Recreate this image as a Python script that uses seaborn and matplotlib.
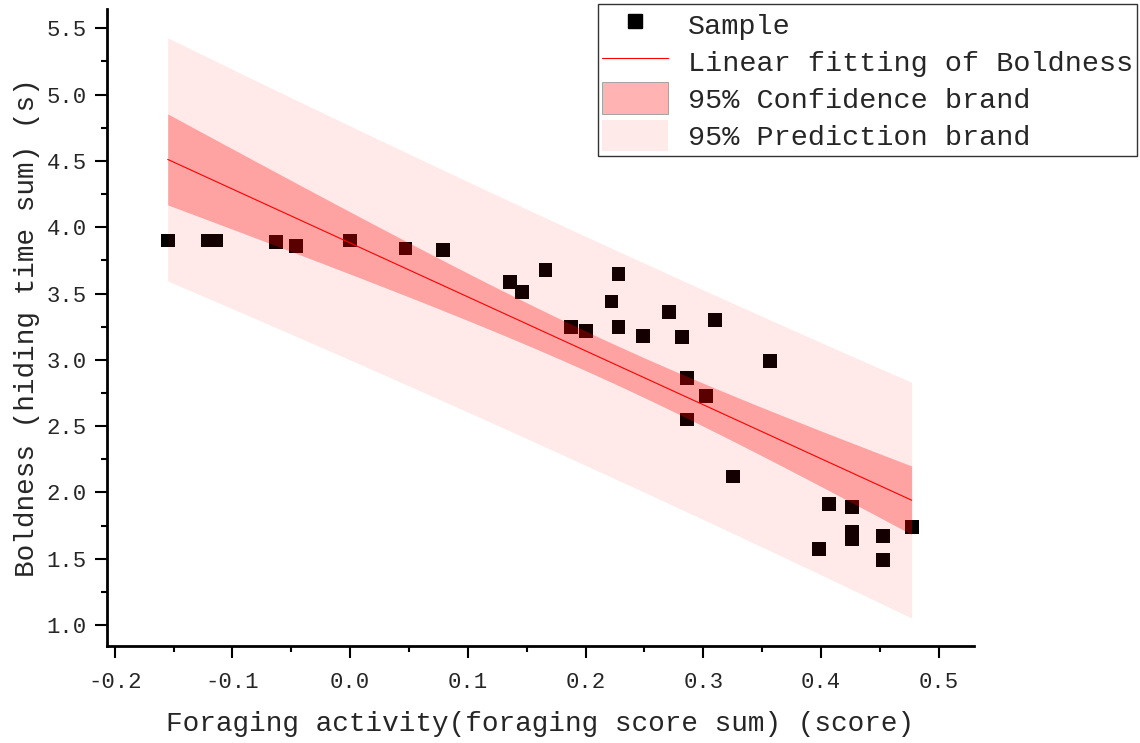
import numpy as np
import pandas as pd
import matplotlib
matplotlib.use("Agg")
import matplotlib.pyplot as plt
import seaborn as sns
from matplotlib.lines import Line2D
from matplotlib.patches import Patch
from matplotlib.ticker import MultipleLocator, FormatStrFormatter

# foraging score sum (x) vs hiding time sum (y)
foraging = [-0.155, -0.121, -0.114, -0.063, -0.046, 0.000, 0.047, 0.079,
            0.136, 0.146, 0.166, 0.188, 0.200, 0.228, 0.222, 0.228,
            0.249, 0.271, 0.282, 0.310, 0.357, 0.286, 0.302, 0.286,
            0.325, 0.407, 0.426, 0.426, 0.426, 0.453, 0.453, 0.398, 0.477]
boldness = [3.90, 3.90, 3.90, 3.89, 3.86, 3.90, 3.84, 3.83,
            3.59, 3.51, 3.68, 3.25, 3.22, 3.65, 3.44, 3.25,
            3.18, 3.36, 3.17, 3.30, 2.99, 2.86, 2.73, 2.55,
            2.12, 1.91, 1.89, 1.70, 1.65, 1.67, 1.49, 1.57, 1.74]

xlabel = "Foraging activity(foraging score sum) (score)"
ylabel = "Boldness (hiding time sum) (s)"
legend_labels = ["Sample", "Linear fitting of Boldness",
                 "95% Confidence brand", "95% Prediction brand"]

df = pd.DataFrame({"x": foraging, "y": boldness})

sns.set_style("ticks")
plt.rcParams["font.family"] = ["Liberation Mono", "DejaVu Sans"]

fig = plt.figure(figsize=(11.4, 7.43), dpi=100)
ax = fig.add_axes([0.0939, 0.1306, 0.7605, 0.8573])

# least squares fit with confidence / prediction bands
x = df["x"].to_numpy()
y = df["y"].to_numpy()
n = len(x)
slope, intercept = np.polyfit(x, y, 1)
resid = y - (slope * x + intercept)
s = np.sqrt(np.sum(resid ** 2) / (n - 2))
sxx = np.sum((x - x.mean()) ** 2)
t = 2.04  # t(0.975, df=31)
xs = np.linspace(x.min(), x.max(), 200)
ys = slope * xs + intercept
ci = t * s * np.sqrt(1 / n + (xs - x.mean()) ** 2 / sxx)
pi = t * s * np.sqrt(1 + 1 / n + (xs - x.mean()) ** 2 / sxx)

sns.scatterplot(data=df, x="x", y="y", marker="s", s=100, color="black",
                edgecolor="none", ax=ax, zorder=2, legend=False)
ax.fill_between(xs, ys - pi, ys + pi, color="red", alpha=0.085, lw=0, zorder=3)
ax.fill_between(xs, ys - ci, ys + ci, color="red", alpha=0.3, lw=0, zorder=3)
ax.plot(xs, ys, color="red", lw=0.8, zorder=4)

ax.set_xlim(-0.2065, 0.530)
ax.set_ylim(0.842, 5.646)
ax.xaxis.set_major_locator(MultipleLocator(0.1))
ax.xaxis.set_minor_locator(MultipleLocator(0.05))
ax.yaxis.set_major_locator(MultipleLocator(0.5))
ax.yaxis.set_minor_locator(MultipleLocator(0.25))
ax.xaxis.set_major_formatter(FormatStrFormatter("%.1f"))
ax.yaxis.set_major_formatter(FormatStrFormatter("%.1f"))
ax.tick_params(which="major", length=8.5, width=1.5, labelsize=16, color="black")
ax.tick_params(axis="x", which="major", pad=10)
ax.tick_params(axis="y", which="major", pad=6)
ax.tick_params(which="minor", length=4.5, width=1.5, color="black")

sns.despine(ax=ax)
for side in ["left", "bottom"]:
    ax.spines[side].set_linewidth(2)
    ax.spines[side].set_color("black")

ax.set_xlabel(xlabel, fontsize=20, labelpad=13)
ax.set_ylabel(ylabel, fontsize=20, labelpad=5)

handles = [
    Line2D([], [], marker="s", color="black", ls="none", markersize=10),
    Line2D([], [], color="red", lw=0.8),
    Patch(facecolor="#ffb3b3", edgecolor="#999999", lw=0.6),
    Patch(facecolor="#ffeaea", edgecolor="none"),
]
leg = fig.legend(handles, legend_labels, loc="upper right",
                 bbox_to_anchor=(0.9975, 0.9946), bbox_transform=fig.transFigure,
                 prop={"size": 20.5}, frameon=True, fancybox=False, handlelength=2.3,
                 handleheight=1.35, handletextpad=0.7, labelspacing=0.18,
                 borderpad=0.15, borderaxespad=0)
leg.get_frame().set_edgecolor("black")
leg.get_frame().set_linewidth(1)

fig.savefig("out.png", dpi=100)
